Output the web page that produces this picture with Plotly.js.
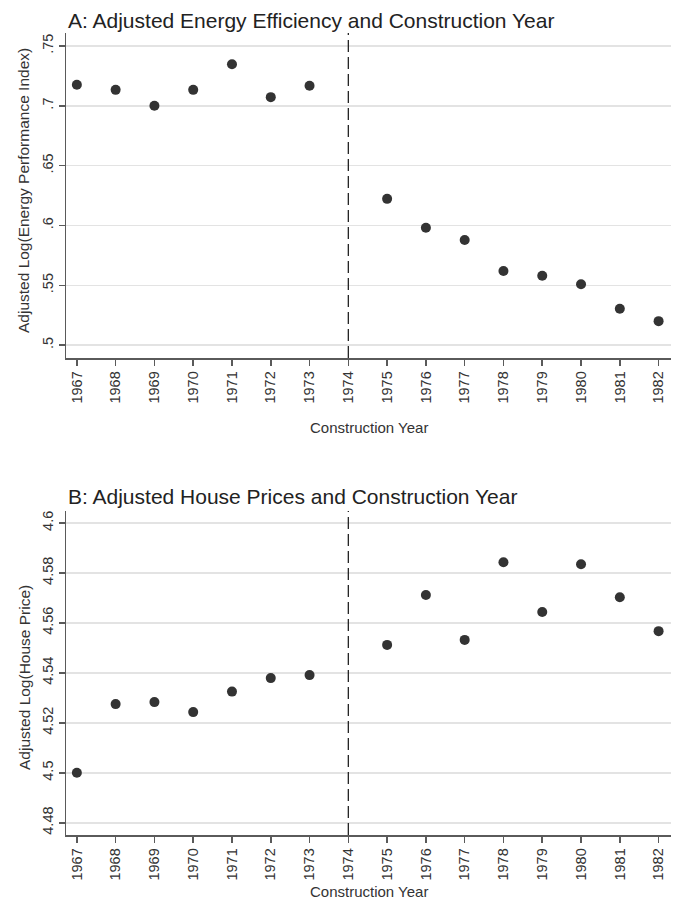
<!DOCTYPE html>
<html>
<head>
<meta charset="utf-8">
<script src="https://cdn.plot.ly/plotly-3.0.1.min.js"></script>
<style>
  html, body { margin: 0; padding: 0; background: #ffffff; }
  #chart { width: 678px; height: 912px; }
</style>
</head>
<body>
<div id="chart"></div>
<script>
// Construction years on the horizontal axis (1974 is the regulation cut-off)
const years = [1967, 1968, 1969, 1970, 1971, 1972, 1973, 1975, 1976, 1977, 1978, 1979, 1980, 1981, 1982];
const tickYears = [1967, 1968, 1969, 1970, 1971, 1972, 1973, 1974, 1975, 1976, 1977, 1978, 1979, 1980, 1981, 1982];
const cutoffYear = 1974;

// Panel A: adjusted log energy performance index
const energyIndex = [0.7175, 0.7133, 0.700, 0.7133, 0.7347, 0.7072, 0.7167,
                     0.6222, 0.598, 0.5878, 0.5619, 0.558, 0.5508, 0.5303, 0.520];
const energyTicks = [0.5, 0.55, 0.6, 0.65, 0.7, 0.75];
const energyTickText = ['.5', '.55', '.6', '.65', '.7', '.75'];

// Panel B: adjusted log house price
const housePrice = [4.500, 4.5275, 4.5283, 4.5243, 4.5325, 4.5379, 4.5391,
                    4.5512, 4.5712, 4.5532, 4.5843, 4.5644, 4.5835, 4.5703, 4.5567];
const priceTicks = [4.48, 4.5, 4.52, 4.54, 4.56, 4.58, 4.6];
const priceTickText = ['4.48', '4.5', '4.52', '4.54', '4.56', '4.58', '4.6'];

const W = 678, H = 912;
const FONT = 'Liberation Sans, Arial, sans-serif';
const ink = '#333333';
const axisInk = '#5a5a5a';

function py(pixelY) { return 1 - pixelY / H; }
function px(pixelX) { return pixelX / W; }

const markerStyle = { color: '#333333', size: 10, line: { width: 0 } };

const traces = [
  { x: years, y: energyIndex, xaxis: 'x', yaxis: 'y', mode: 'markers', type: 'scatter',
    marker: markerStyle, hoverinfo: 'x+y' },
  { x: years, y: housePrice, xaxis: 'x2', yaxis: 'y2', mode: 'markers', type: 'scatter',
    marker: markerStyle, hoverinfo: 'x+y' }
];

function xAxis(anchor) {
  return {
    anchor: anchor,
    domain: [px(66), px(671)],
    range: [1966.72, 1982.32],
    tickmode: 'array', tickvals: tickYears, ticktext: tickYears.map(String),
    tickangle: -90,
    ticks: 'outside', ticklen: 6, tickwidth: 1.5, tickcolor: axisInk,
    showline: true, linecolor: axisInk, linewidth: 1.5,
    showgrid: false, zeroline: false,
    tickfont: { family: FONT, size: 14.5, color: ink },
    fixedrange: true
  };
}

function yAxis(anchor, domain, range, vals, text) {
  return {
    anchor: anchor,
    domain: domain,
    range: range,
    tickmode: 'array', tickvals: vals, ticktext: text,
    tickangle: -90,
    ticks: 'outside', ticklen: 6, tickwidth: 1.5, tickcolor: axisInk,
    showline: true, linecolor: axisInk, linewidth: 1.5,
    showgrid: true, gridcolor: '#e3e3e3', gridwidth: 1.5,
    zeroline: false,
    tickfont: { family: FONT, size: 14.5, color: ink },
    fixedrange: true
  };
}

const layout = {
  width: W, height: H,
  margin: { l: 0, r: 0, t: 0, b: 0 },
  paper_bgcolor: '#ffffff', plot_bgcolor: '#ffffff',
  showlegend: false,
  xaxis: xAxis('y'),
  yaxis: yAxis('x', [py(358), py(33)], [0.4892, 0.7608], energyTicks, energyTickText),
  xaxis2: xAxis('y2'),
  yaxis2: yAxis('x2', [py(835), py(511)], [4.4751, 4.6048], priceTicks, priceTickText),
  shapes: [
    { type: 'line', xref: 'x', yref: 'y domain', x0: cutoffYear, x1: cutoffYear, y0: 0, y1: 1,
      line: { color: '#222222', width: 1.3, dash: '12px,5px' } },
    { type: 'line', xref: 'x2', yref: 'y2 domain', x0: cutoffYear, x1: cutoffYear, y0: 0, y1: 1,
      line: { color: '#222222', width: 1.3, dash: '12px,5px' } }
  ],
  annotations: [
    { text: 'A: Adjusted Energy Efficiency and Construction Year', xref: 'paper', yref: 'paper',
      x: px(66), y: py(20.5), xanchor: 'left', yanchor: 'middle', showarrow: false,
      font: { family: FONT, size: 21, color: '#222222' } },
    { text: 'B: Adjusted House Prices and Construction Year', xref: 'paper', yref: 'paper',
      x: px(66), y: py(496), xanchor: 'left', yanchor: 'middle', showarrow: false,
      font: { family: FONT, size: 21, color: '#222222' } },
    { text: 'Construction Year', xref: 'paper', yref: 'paper',
      x: px(369), y: py(427), xanchor: 'center', yanchor: 'middle', showarrow: false,
      font: { family: FONT, size: 15, color: ink } },
    { text: 'Construction Year', xref: 'paper', yref: 'paper',
      x: px(369), y: py(891), xanchor: 'center', yanchor: 'middle', showarrow: false,
      font: { family: FONT, size: 15, color: ink } },
    { text: 'Adjusted Log(Energy Performance Index)', xref: 'paper', yref: 'paper',
      x: px(24), y: py(191), xanchor: 'center', yanchor: 'middle', textangle: -90, showarrow: false,
      font: { family: FONT, size: 15.5, color: ink } },
    { text: 'Adjusted Log(House Price)', xref: 'paper', yref: 'paper',
      x: px(24), y: py(678), xanchor: 'center', yanchor: 'middle', textangle: -90, showarrow: false,
      font: { family: FONT, size: 15.5, color: ink } }
  ]
};

Plotly.newPlot('chart', traces, layout, { staticPlot: true, displayModeBar: false });
</script>
</body>
</html>
